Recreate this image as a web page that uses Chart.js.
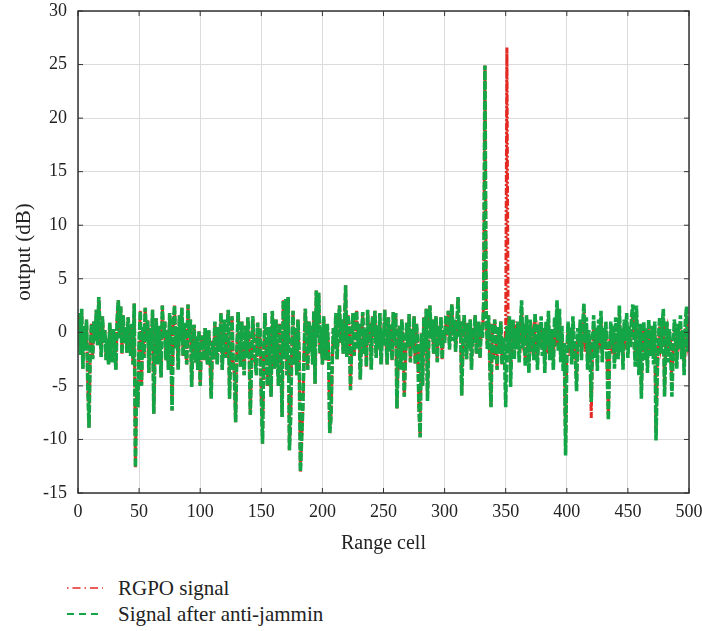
<!DOCTYPE html>
<html>
<head>
<meta charset="utf-8">
<script src="https://cdn.jsdelivr.net/npm/chart.js@4/dist/chart.umd.min.js"></script>
<style>
  body { margin: 0; background: #fff; }
  #wrap { position: relative; width: 702px; height: 631px; }
  #chartBox { position: absolute; left: 0; top: 0; width: 702px; height: 565px; }
  #legend { position: absolute; left: 66px; top: 575px; font-family: 'Liberation Serif', 'DejaVu Serif', serif; font-size: 21px; color: #222; }
  .row { display: flex; align-items: center; height: 26px; }
  .row svg { margin-right: 14px; }
</style>
</head>
<body>
<div id="wrap">
  <div id="chartBox"><canvas id="rangeChart"></canvas></div>
  <div id="legend">
    <div class="row"><svg width="38" height="6"><line x1="1" y1="3" x2="37" y2="3" stroke="#e52a24" stroke-width="1.6" stroke-dasharray="1.5,4,8,4"/></svg>RGPO signal</div>
    <div class="row"><svg width="38" height="6"><line x1="1" y1="3" x2="37" y2="3" stroke="#14a546" stroke-width="1.8" stroke-dasharray="7,5"/></svg>Signal after anti-jammin</div>
  </div>
</div>
<script>
// output (dB) after anti-jamming, one value per range cell 0..500
const antiJamOutput = [
  -0.5, 1.8, -2.1, 2.2, -3.4, 0.6, -1.5, 1.2, -4.8, -8.9,
  -2.0, 0.8, -2.5, 1.0, -0.8, 2.1, -1.2, 3.3, 0.4, -2.3,
  1.5, -1.0, 0.2, -2.6, -0.5, -3.0, 0.9, -1.8, -2.8, 0.3,
  -1.4, -3.5, 1.2, 3.0, -0.6, 2.4, -2.0, 1.6, -1.0, 0.5,
  -1.9, 1.4, -0.2, -2.2, 0.8, -3.0, 2.7, -12.6, -4.5, -7.0,
  -1.0, 2.0, -5.0, 0.5, -2.4, 2.3, -0.8, 1.2, -3.8, 0.4,
  -1.5, 2.1, -7.6, -2.0, 1.3, -3.0, 0.6, -1.2, -4.2, 2.5,
  -0.5, 1.0, -2.6, 0.2, -3.5, 1.8, -1.0, -7.3, 0.8, 2.5,
  -1.5, 0.5, -3.5, 1.6, -0.8, 2.3, -2.2, 0.9, -1.4, -3.0,
  2.6, -0.5, 1.2, -5.1, -1.0, 0.7, -2.8, -0.4, -3.5, 0.1,
  -5.0, -1.2, -0.3, -2.6, 0.4, -1.6, -3.0, 0.2, -2.1, -6.2,
  -0.8, -2.5, 1.0, -1.4, -3.0, 0.5, -1.8, 1.8, -3.5, -0.6,
  1.2, -2.4, 0.3, 2.1, -6.2, -1.0, 1.5, -2.8, -4.0, -8.4,
  -1.7, 1.9, -0.5, -3.2, 1.0, -1.8, -4.0, 0.6, -2.4, 1.4,
  -1.0, -7.7, -3.0, 1.5, -0.8, -2.6, -4.0, 0.9, -1.5, 0.4,
  -6.0, -10.4, -2.0, 1.8, -1.2, -5.0, 0.5, -2.2, -6.0, 2.0,
  -0.9, -3.4, 1.2, -2.0, -5.0, 0.8, -1.6, -7.9, 3.0, -2.5,
  3.1, -4.0, 3.3, -11.0, -8.0, -1.5, 2.0, -3.0, 0.4, -4.0,
  1.2, -2.3, -13.0, -10.0, -7.0, -2.0, 2.2, -0.6, -3.5, 1.0,
  -1.8, 0.6, -3.0, 2.0, -4.8, 3.9, -0.5, 3.7, -2.0, 0.5,
  -3.0, 1.5, -1.0, -2.6, 0.8, -1.6, -9.4, -8.0, -3.0, 0.4,
  -1.5, 1.8, -2.5, 0.2, 2.5, -1.0, 1.2, -2.0, 0.6, 4.4,
  -2.3, 1.6, 0.2, -5.4, -1.0, 1.8, -2.2, 0.5, 2.0, -1.5,
  0.8, -4.4, -0.6, 1.9, -2.0, 0.3, -3.2, 2.1, -1.0, 0.9,
  -3.5, 1.5, -0.4, 2.0, -2.4, 0.6, -1.6, 1.8, -3.0, 0.2,
  -1.2, 2.1, -0.6, -3.0, 1.4, -1.8, 0.7, -2.6, 1.9, -0.8,
  1.8, -7.1, -2.0, 0.6, -3.5, 1.2, -1.0, -6.0, -2.4, 0.9,
  -1.4, 1.7, -2.8, 0.3, -1.6, 1.5, -3.0, 0.8, -1.0, -7.0,
  -9.8, -0.1, -5.0, 1.4, -1.8, 2.2, -6.4, -1.0, 2.5, -0.6,
  1.2, -2.0, 0.4, 1.5, -2.8, 0.6, -1.2, 1.4, -2.5, 0.2,
  -1.0, 1.6, -0.3, 2.0, -1.6, 0.8, 2.6, -0.8, 1.2, -1.8,
  0.5, 3.3, -0.4, 1.0, -5.9, -1.2, 1.6, -0.6, -2.5, 0.9,
  -1.5, 1.2, -3.5, 0.4, -1.0, 1.6, -2.0, 0.2, 1.0, -2.4,
  0.6, -0.5, 3.0, 24.9, 2.0, -1.6, 1.6, -3.0, -7.0, 0.8,
  -2.5, 1.2, -1.0, -3.5, 0.5, -2.0, 1.0, -3.0, -0.5, -1.8,
  -7.0, 0.6, -2.0, 1.5, -5.1, -0.8, 1.2, -2.5, 0.4, -1.6,
  1.0, -2.8, 0.2, 3.0, -1.5, 0.8, -3.2, 1.6, -0.6, -3.8,
  1.2, -1.8, 0.5, -2.6, 1.8, -0.9, -3.5, 0.7, -1.4, 1.5,
  -2.2, 0.4, -3.8, 1.0, -1.2, 2.0, -2.6, 0.3, -1.0, -3.5,
  1.4, -0.5, 3.0, -1.8, 2.2, -2.8, 0.6, -3.6, -1.0, -11.5,
  -2.5, 1.0, -1.5, 0.5, -3.0, 1.5, -0.8, -2.2, -5.5, 0.4,
  -1.4, 1.2, -2.6, 0.6, 2.7, -1.0, 1.4, -3.5, 0.2, -2.0,
  -6.5, -1.0, 1.6, -2.4, 0.5, -3.6, 1.2, -0.8, 2.0, -2.8,
  0.4, -1.6, 1.0, -3.0, -8.2, -2.0, 1.0, -1.2, 0.6, -3.4,
  1.4, -0.6, -2.5, 2.5, -1.8, 0.4, -3.5, 1.2, -0.8, 1.8,
  -2.4, 0.6, -1.4, 1.5, 2.6, -0.5, -3.2, 2.5, -1.0, -4.0,
  0.8, -6.2, -1.5, 1.0, -2.6, 0.4, -3.8, 1.2, -1.0, -2.2,
  0.6, -3.0, 1.0, -10.1, -4.0, -0.5, 1.4, -2.0, 0.4, 2.2,
  -6.0, -1.2, 1.0, -2.8, 0.3, -1.6, -6.0, -2.0, 1.2, -0.6,
  -3.4, 0.8, -1.5, 1.6, -2.5, 0.2, -4.0, 1.0, 2.4, -1.8,
  0.5
];

// RGPO signal: same as above up to cell 349, then its own values (false target at 351)
const rgpoTail = [
  0.5, 26.6, -0.5, 1.2, -4.0, -1.5, 0.6, -2.0, 1.0, -0.8,
  0.2, -2.0, 1.0, 2.4, -0.8, -0.2, -2.5, 1.0, -1.4, -3.0,
  0.6, -1.0, -0.2, -1.8, 1.2, -1.6, -2.6, 0.0, -0.6, 0.9,
  -1.5, -0.4, -3.0, 0.3, -2.0, 1.4, -1.8, -0.5, -1.8, -2.6,
  0.8, -1.3, 2.2, -1.0, 1.5, -2.0, -0.3, -2.8, -1.8, -10.5,
  -1.6, 0.2, -2.2, -0.3, -2.2, 0.8, -1.6, -1.4, -4.6, -0.4,
  -0.6, 0.5, -1.8, -0.2, 1.9, -1.8, 0.6, -2.6, -0.6, -1.2,
  -8.0, -1.8, 0.8, -1.6, -0.4, -2.8, 0.4, -1.6, 1.2, -2.0,
  -0.4, -0.8, 0.2, -2.2, -8.0, -1.2, 0.2, -2.0, -0.2, -2.6,
  0.6, -1.4, -1.7, 1.7, -1.0, -0.4, -2.7, 0.4, -1.6, 1.0,
  -1.6, -0.2, -0.6, 0.7, 1.8, -1.3, -2.4, 1.7, -1.8, -3.2,
  0.0, -5.4, -0.7, 0.2, -1.8, -0.4, -3.0, 0.4, -1.8, -1.4,
  -0.2, -2.2, 0.2, -9.3, -3.2, -1.3, 0.6, -1.2, -0.4, 1.4,
  -5.2, -0.4, 0.2, -2.0, -0.5, -0.8, -5.2, -1.2, 0.4, 0.2,
  -2.6, 0.0, -0.7, 0.8, -1.7, -0.6, -3.2, 0.2, 1.6, -1.0,
  -0.3
];
const rgpoSignal = antiJamOutput.slice(0, 350).concat(rgpoTail);

const xTicks = [0, 50, 100, 150, 200, 250, 300, 350, 400, 450, 500];
const yTicks = [-15, -10, -5, 0, 5, 10, 15, 20, 25, 30];

const serif = "'Liberation Serif', 'DejaVu Serif', serif";

function toPoints(values) {
    return values.map((v, cell) => ({ x: cell, y: v }));
}

// box frame + inward tick marks like the original figure
const frameBox = {
    id: 'frameBox',
    afterDraw(chart) {
        const { ctx, chartArea: a, scales } = chart;
        ctx.save();
        ctx.strokeStyle = '#333';
        ctx.lineWidth = 1.5;
        ctx.strokeRect(a.left, a.top, a.right - a.left, a.bottom - a.top);
        ctx.lineWidth = 1;
        ctx.beginPath();
        xTicks.forEach(t => {
            const px = scales.x.getPixelForValue(t);
            ctx.moveTo(px, a.bottom); ctx.lineTo(px, a.bottom - 5);
            ctx.moveTo(px, a.top); ctx.lineTo(px, a.top + 5);
        });
        yTicks.forEach(t => {
            const py = scales.y.getPixelForValue(t);
            ctx.moveTo(a.left, py); ctx.lineTo(a.left + 5, py);
            ctx.moveTo(a.right, py); ctx.lineTo(a.right - 5, py);
        });
        ctx.stroke();
        ctx.restore();
    }
};

const ctx = document.getElementById('rangeChart').getContext('2d');
new Chart(ctx, {
    type: 'line',
    data: {
        datasets: [
            {
                label: 'RGPO signal',
                data: toPoints(rgpoSignal),
                borderColor: '#e52a24',
                borderWidth: 3,
                borderDash: [7, 2, 2, 2],
                pointRadius: 0,
                tension: 0,
                order: 1
            },
            {
                label: 'Signal after anti-jammin',
                data: toPoints(antiJamOutput),
                borderColor: '#14a546',
                borderWidth: 3.6,
                borderDash: [8, 2],
                pointRadius: 0,
                tension: 0,
                order: 0
            }
        ]
    },
    options: {
        responsive: true,
        maintainAspectRatio: false,
        animation: false,
        layout: { padding: { top: 11, right: 13, left: 0, bottom: 0 } },
        plugins: {
            legend: { display: false },
            tooltip: { enabled: false }
        },
        scales: {
            x: {
                type: 'linear',
                min: 0,
                max: 500,
                afterBuildTicks: scale => { scale.ticks = xTicks.map(v => ({ value: v })); },
                afterFit: scale => {
                    scale.height = 72;
                    scale.paddingLeft = 0;
                    scale.paddingRight = 0;
                },
                grid: { color: '#dcdcdc', drawTicks: false },
                border: { display: false },
                ticks: { padding: 8, color: '#222', font: { family: serif, size: 18 } },
                title: {
                    display: true,
                    text: 'Range cell',
                    color: '#222',
                    font: { family: serif, size: 20 },
                    padding: { top: 0, bottom: 9 }
                }
            },
            y: {
                min: -15,
                max: 30,
                afterBuildTicks: scale => { scale.ticks = yTicks.map(v => ({ value: v })); },
                afterFit: scale => {
                    scale.width = 78;
                    scale.paddingTop = 0;
                    scale.paddingBottom = 0;
                },
                grid: { color: '#dcdcdc', drawTicks: false },
                border: { display: false },
                ticks: { padding: 11, color: '#222', font: { family: serif, size: 18 } },
                title: {
                    display: true,
                    text: 'output (dB)',
                    color: '#222',
                    font: { family: serif, size: 21 },
                    padding: { top: 12, bottom: 0 }
                }
            }
        }
    },
    plugins: [frameBox]
});
</script>
</body>
</html>
